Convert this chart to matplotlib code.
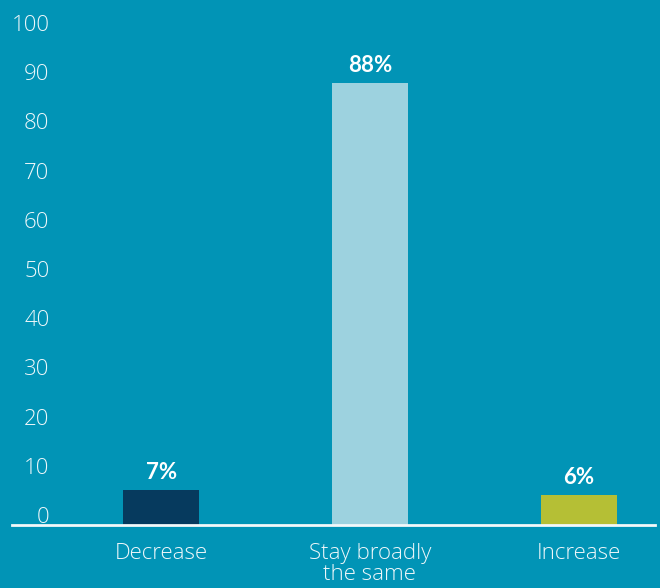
import matplotlib.pyplot as plt

categories = ['Decrease', 'Stay broadly\nthe same', 'Increase']
values = [7, 88, 6]
value_labels = ['7%', '88%', '6%']
tick_values = [0, 10, 20, 30, 40, 50, 60, 70, 80, 90, 100]

bg = '#0194b6'
bar_colors = ['#063a5e', '#9dd2df', '#b5bf35']
txt = '#eef7fa'

plt.rcParams['font.family'] = ['Open Sans', 'DejaVu Sans']

fig = plt.figure(figsize=(6.6, 5.88), dpi=100, facecolor=bg)
ax = fig.add_axes([0.018, 0.107, 0.974, 0.854])
ax.set_facecolor(bg)

x = list(range(len(categories)))
bars = ax.bar(x, values, width=0.364, color=bar_colors)
ax.set_xlim(-0.715, 2.365)
ax.set_ylim(0, 100)

for b, lab in zip(bars, value_labels):
    ax.annotate(lab, (b.get_x() + b.get_width() / 2, b.get_height()),
                xytext=(0, 5), textcoords='offset points', ha='center', va='bottom',
                color='white', fontsize=16, fontweight='bold', family=['Lato', 'DejaVu Sans'])

ax.set_xticks(x)
ax.set_xticklabels(categories, fontsize=16, color=txt, linespacing=1.0,
                   fontweight='light')
ax.tick_params(axis='x', length=0, pad=13)
ax.set_yticks([])
for s in ['top', 'right', 'left']:
    ax.spines[s].set_visible(False)
ax.spines['bottom'].set_color('#f2f8fa')
ax.spines['bottom'].set_linewidth(2)

# y labels sit slightly above the real scale in the original
ax2 = ax.twinx()
ax2.set_ylim(-2.03, 100)
ax2.yaxis.set_ticks_position('left')
ax2.set_yticks(tick_values)
ax2.set_yticklabels([str(v) for v in tick_values], fontsize=16, color=txt,
                    fontweight='light')
ax2.tick_params(axis='y', length=0, pad=-27)
for lbl in ax2.get_yticklabels():
    lbl.set_horizontalalignment('right')
for s in ax2.spines.values():
    s.set_visible(False)

fig.savefig('out.png', dpi=100, facecolor=bg)
